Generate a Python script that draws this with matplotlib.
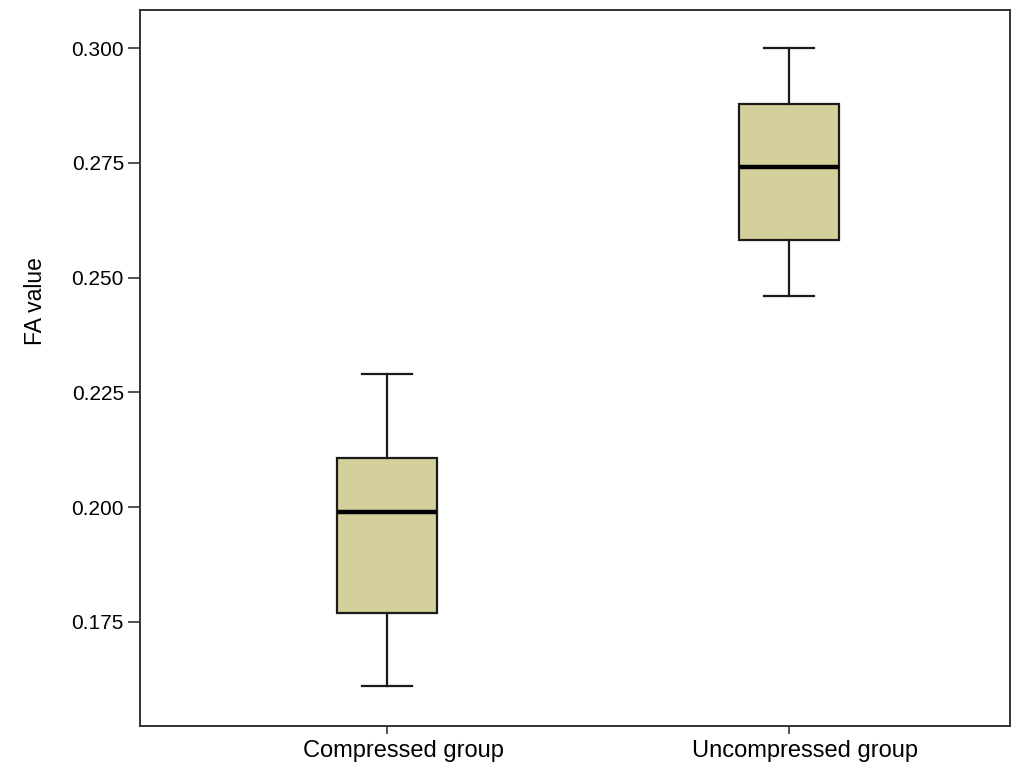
import matplotlib
matplotlib.use("Agg")
import matplotlib.pyplot as plt
import matplotlib.transforms as mtransforms

plt.rcParams['font.family'] = ['Liberation Sans', 'DejaVu Sans']

categories = ["Compressed group", "Uncompressed group"]
whisker_low = [0.1610, 0.2459]
q1 = [0.1770, 0.2581]
median = [0.1989, 0.2741]
q3 = [0.2107, 0.2878]
whisker_high = [0.2290, 0.3000]
yticks = [0.175, 0.200, 0.225, 0.250, 0.275, 0.300]
ytick_labels = ["0.175", "0.200", "0.225", "0.250", "0.275", "0.300"]

stats = []
for i, name in enumerate(categories):
    stats.append(dict(label=name, whislo=whisker_low[i], q1=q1[i], med=median[i],
                      q3=q3[i], whishi=whisker_high[i], fliers=[]))

fig = plt.figure(figsize=(10.33, 7.75), dpi=100)
ax = fig.add_axes([140/1033, 1-726/775, 870/1033, 716/775])

ax.bxp(stats, positions=[1, 2], widths=0.249, capwidths=0.124,
       showfliers=False, patch_artist=True,
       boxprops=dict(facecolor='#D4D09B', edgecolor='#1a1a1a', linewidth=1.6),
       medianprops=dict(color='black', linewidth=3.2),
       whiskerprops=dict(color='#1a1a1a', linewidth=1.6),
       capprops=dict(color='#1a1a1a', linewidth=1.6))

ax.set_xlim(0.3856, 2.5498)
ax.set_ylim(0.15235, 0.30828)
ax.set_yticks(yticks)
ax.set_yticklabels(ytick_labels, fontsize=15)
ax.set_xticks([1, 2])
ax.set_xticklabels(categories, fontsize=17)
ax.tick_params(axis='y', direction='out', length=8.6, width=1.2, color='#333333', pad=3)
ax.tick_params(axis='x', direction='out', length=5.8, width=1.2, color='#333333', pad=4)
offset = mtransforms.ScaledTranslation(16/100, 0, fig.dpi_scale_trans)
for lab in ax.get_xticklabels():
    lab.set_transform(lab.get_transform() + offset)
for s in ax.spines.values():
    s.set_linewidth(1.4)
    s.set_color('#333333')
ax.set_ylabel("FA value", fontsize=16.5)
ax.yaxis.set_label_coords(-0.107, 0.594)

fig.savefig("out.png", dpi=100)
